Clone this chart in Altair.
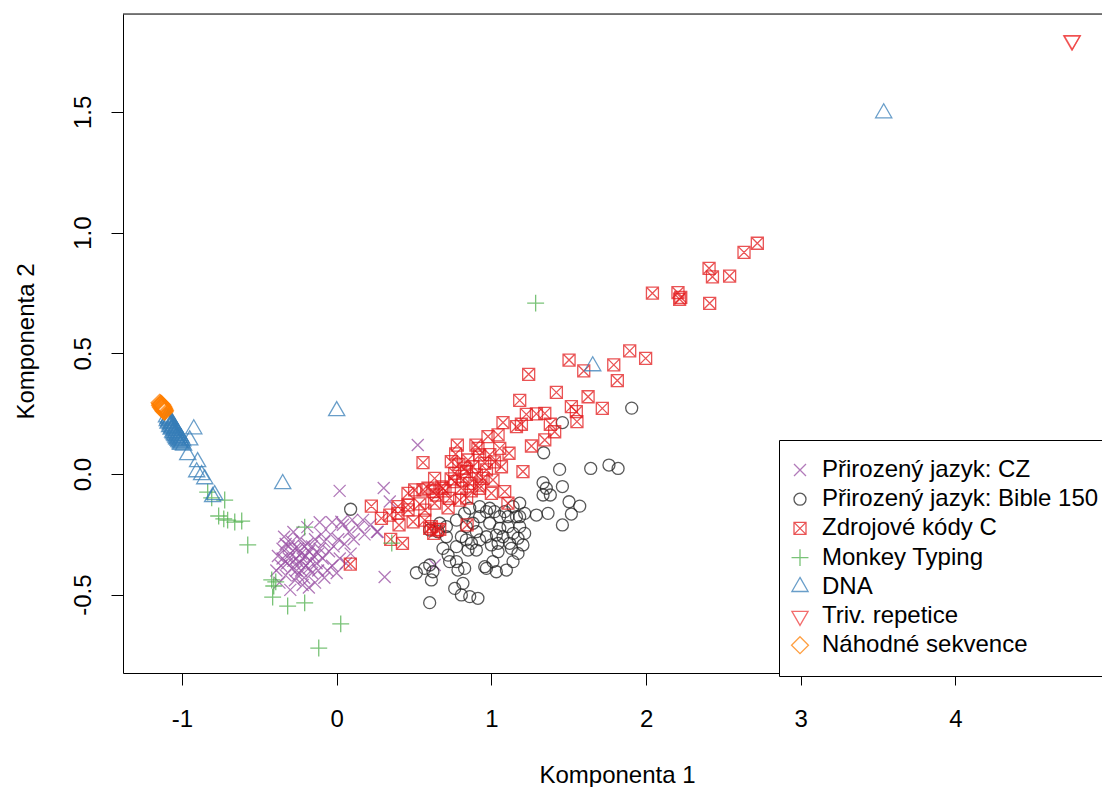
import altair as alt
import pandas as pd

# Principal component scores (Komponenta 1, Komponenta 2) per text type
cz_pts = [
    (-0.30, -0.33), (-0.28, -0.36), (-0.25, -0.31), (-0.22, -0.35), (-0.20, -0.38),
    (-0.18, -0.32), (-0.26, -0.40), (-0.32, -0.37), (-0.35, -0.31), (-0.29, -0.28),
    (-0.24, -0.27), (-0.19, -0.29), (-0.15, -0.34), (-0.13, -0.37), (-0.16, -0.41),
    (-0.21, -0.43), (-0.27, -0.44), (-0.33, -0.42), (-0.36, -0.38), (-0.38, -0.34),
    (-0.31, -0.30), (-0.23, -0.33), (-0.17, -0.36), (-0.11, -0.31), (-0.09, -0.35),
    (-0.12, -0.40), (-0.08, -0.28), (-0.05, -0.32), (-0.02, -0.30), (0.01, -0.27),
    (-0.04, -0.25), (-0.10, -0.25), (-0.14, -0.27), (-0.28, -0.24), (-0.34, -0.26),
    (-0.22, -0.46), (-0.14, -0.45), (-0.08, -0.43), (-0.03, -0.38), (0.02, -0.35),
    (0.05, -0.29), (0.08, -0.24), (0.04, -0.21), (0.11, -0.27), (0.14, -0.22),
    (0.18, -0.25), (0.22, -0.21), (0.26, -0.24), (0.17, -0.19), (0.10, -0.19),
    (-0.03, -0.20), (-0.11, -0.20), (-0.19, -0.22), (-0.24, -0.37), (-0.20, -0.34),
    (-0.26, -0.35), (-0.29, -0.39), (-0.18, -0.39), (-0.23, -0.40), (-0.31, -0.35),
    (-0.33, -0.29), (-0.39, -0.40), (-0.37, -0.45), (-0.30, -0.48), (-0.18, -0.47),
    (-0.06, -0.40), (0.00, -0.41), (0.06, -0.37), (0.09, -0.33), (-0.12, -0.33),
    (-0.16, -0.30), (-0.21, -0.30), (-0.27, -0.31), (-0.25, -0.42), (-0.35, -0.35),
    (0.524, 0.120), (0.019, -0.070), (0.304, -0.058), (0.343, -0.114), (0.310, -0.427),
    (0.634, -0.377), (0.030, -0.198), (0.265, -0.239),
]

bible_pts = [
    (1.907, 0.273), (1.459, 0.213), (1.338, 0.088), (1.441, 0.019), (1.642, 0.023),
    (1.760, 0.037), (1.819, 0.023), (1.334, -0.036), (1.355, -0.059), (1.381, -0.087),
    (1.334, -0.087), (1.459, -0.052), (1.502, -0.115), (1.571, -0.133), (1.517, -0.166),
    (1.459, -0.211), (1.366, -0.163), (1.291, -0.170), (1.215, -0.163), (1.183, -0.121),
    (1.183, -0.218), (1.204, -0.294), (1.172, -0.329), (1.140, -0.363), (1.097, -0.398),
    (1.032, -0.405), (0.968, -0.391), (1.010, -0.363), (1.043, -0.322), (1.129, -0.308),
    (1.140, -0.246), (1.107, -0.218), (1.075, -0.260), (1.032, -0.253), (1.054, -0.177),
    (1.086, -0.156), (1.162, -0.177), (0.989, -0.204), (0.968, -0.156), (0.924, -0.177),
    (0.924, -0.135), (0.989, -0.142), (0.860, -0.142), (0.827, -0.163), (0.774, -0.191),
    (0.709, -0.218), (0.655, -0.239), (0.601, -0.232), (0.666, -0.204), (0.806, -0.260),
    (0.838, -0.273), (0.871, -0.287), (0.924, -0.273), (0.903, -0.239), (0.849, -0.315),
    (0.687, -0.308), (0.720, -0.336), (0.774, -0.363), (0.827, -0.391), (0.784, -0.398),
    (0.601, -0.377), (0.569, -0.391), (0.622, -0.405), (0.515, -0.409), (0.612, -0.439),
    (0.763, -0.474), (0.806, -0.501), (0.860, -0.508), (0.913, -0.515), (0.816, -0.453),
    (0.601, -0.533), (0.957, -0.384), (0.774, -0.301), (0.838, -0.218), (0.881, -0.204),
    (0.709, -0.260), (1.140, -0.135), (1.215, -0.246), (1.172, -0.266), (1.118, -0.287),
    (1.043, -0.287), (1.000, -0.294), (1.021, -0.156), (1.107, -0.177), (1.183, -0.177),
    (1.054, -0.225), (0.968, -0.260), (0.903, -0.315), (0.730, -0.363), (0.090, -0.146),
]

c_pts = [
    (2.719, 0.956), (2.633, 0.918), (2.407, 0.852), (2.429, 0.817), (2.540, 0.820),
    (2.041, 0.749), (2.206, 0.751), (2.217, 0.724), (2.224, 0.732), (2.411, 0.707),
    (1.894, 0.510), (1.997, 0.479), (1.791, 0.452), (1.814, 0.387), (1.717, 0.272),
    (1.502, 0.472), (1.597, 0.427), (1.241, 0.413), (1.420, 0.338), (1.625, 0.320),
    (1.183, 0.305), (1.517, 0.279), (1.549, 0.258), (1.553, 0.217), (1.226, 0.247),
    (1.291, 0.249), (1.345, 0.251), (1.381, 0.206), (1.409, 0.175), (1.075, 0.213),
    (1.162, 0.196), (1.194, 0.206), (1.043, 0.162), (0.978, 0.155), (1.259, 0.116),
    (1.345, 0.141), (1.054, 0.106), (1.114, 0.086), (0.913, 0.106), (0.924, 0.079),
    (0.769, 0.083), (0.558, 0.047), (0.741, 0.051), (0.849, 0.058), (0.957, 0.044),
    (1.065, 0.030), (0.827, 0.024), (0.763, 0.003), (0.838, 0.010), (0.903, -0.004),
    (0.968, 0.017), (1.204, 0.010), (1.010, -0.025), (0.946, -0.018), (0.633, -0.018),
    (0.763, -0.032), (0.816, -0.025), (0.860, -0.039), (0.806, -0.059), (0.677, -0.053),
    (0.590, -0.059), (0.558, -0.066), (0.504, -0.066), (0.461, -0.080), (0.645, -0.087),
    (0.730, -0.101), (0.795, -0.108), (1.086, -0.073), (0.924, -0.059), (0.537, -0.124),
    (0.633, -0.121), (0.461, -0.128), (0.396, -0.135), (0.224, -0.133), (0.289, -0.184),
    (0.343, -0.170), (0.396, -0.163), (0.403, -0.211), (0.461, -0.149), (0.494, -0.198),
    (0.569, -0.191), (0.612, -0.218), (0.666, -0.229), (0.627, -0.246), (0.349, -0.271),
    (0.425, -0.287), (0.088, -0.373), (0.843, -0.211), (0.648, -0.232), (0.601, -0.225),
    (1.107, -0.121), (0.687, -0.059), (0.622, -0.073), (0.924, -0.046), (0.880, 0.030),
    (0.790, 0.040), (0.870, -0.070), (0.740, -0.020), (0.700, -0.070), (0.990, 0.080),
    (1.020, 0.050), (0.900, 0.120), (0.840, -0.100), (0.780, 0.120), (1.000, -0.080),
    (0.570, -0.150), (0.720, -0.140),
]

monkey_pts = [
    (1.286, 0.708), (-0.834, -0.075), (-0.724, -0.108), (-0.763, -0.174), (-0.730, -0.186),
    (-0.705, -0.191), (-0.659, -0.199), (-0.614, -0.195), (-0.575, -0.294), (-0.207, -0.220),
    (-0.420, -0.439), (-0.394, -0.447), (-0.407, -0.464), (-0.414, -0.510), (-0.317, -0.547),
    (-0.207, -0.534), (0.026, -0.621), (-0.116, -0.721), (0.356, -0.286), (-0.808, -0.099),
]

dna_pts = [
    (3.536, 1.495), (1.655, 0.447), (0.000, 0.261), (-0.349, -0.041), (-0.924, 0.186),
    (-0.963, 0.079), (-0.899, 0.050), (-0.905, 0.008), (-0.873, -0.004), (-0.853, -0.021),
    (-0.789, -0.087), (-0.802, -0.095), (-0.950, 0.140),
    (-1.100, 0.235), (-1.090, 0.228), (-1.095, 0.220), (-1.085, 0.215), (-1.080, 0.222),
    (-1.075, 0.205), (-1.090, 0.210), (-1.070, 0.198), (-1.065, 0.210), (-1.080, 0.195),
    (-1.060, 0.190), (-1.055, 0.200), (-1.070, 0.185), (-1.050, 0.180), (-1.045, 0.190),
    (-1.060, 0.172), (-1.040, 0.170), (-1.035, 0.178), (-1.050, 0.162), (-1.030, 0.160),
    (-1.025, 0.168), (-1.040, 0.152), (-1.020, 0.150), (-1.015, 0.158), (-1.030, 0.143),
    (-1.010, 0.140), (-1.005, 0.148), (-1.020, 0.133), (-1.000, 0.128), (-0.995, 0.136),
    (-1.010, 0.122), (-0.990, 0.118), (-1.085, 0.232), (-1.075, 0.225), (-1.065, 0.190),
    (-1.055, 0.168), (-1.035, 0.145), (-1.025, 0.138), (-1.045, 0.158), (-1.012, 0.128),
]

triv_pts = [(4.755, 1.797), (4.752, 1.795)]

rand_pts = [
    (-1.145, 0.295), (-1.140, 0.292), (-1.138, 0.288), (-1.135, 0.290), (-1.132, 0.284),
    (-1.130, 0.280), (-1.128, 0.286), (-1.126, 0.278), (-1.124, 0.274), (-1.122, 0.280),
    (-1.120, 0.270), (-1.118, 0.266), (-1.116, 0.272), (-1.114, 0.262), (-1.112, 0.258),
    (-1.110, 0.264), (-1.142, 0.284), (-1.136, 0.276), (-1.128, 0.270), (-1.120, 0.262),
]

groups = [
    "Přirozený jazyk: CZ",
    "Přirozený jazyk: Bible 150",
    "Zdrojové kódy C",
    "Monkey Typing",
    "DNA",
    "Triv. repetice",
    "Náhodné sekvence",
]
series = [cz_pts, bible_pts, c_pts, monkey_pts, dna_pts, triv_pts, rand_pts]
colors = ["#984EA3", "#222222", "#E41A1C", "#4DAF4A", "#377EB8", "#F03C3C", "#FF7F00"]
# R-style plotting symbols as unit SVG paths
shapes = [
    "M-1,-1L1,1M-1,1L1,-1",                                  # cross (x)
    "M1,0A1,1,0,1,1,-1,0A1,1,0,1,1,1,0Z",                    # open circle
    "M-1,-1L1,-1L1,1L-1,1ZM-1,-1L1,1M-1,1L1,-1",             # boxed cross
    "M-1.41,0L1.41,0M0,-1.41L0,1.41",                        # plus
    "M0,-1.56L1.35,0.78L-1.35,0.78Z",                        # triangle up
    "M0,1.56L1.35,-0.78L-1.35,-0.78Z",                       # triangle down
    "M0,-1.41L1.41,0L0,1.41L-1.41,0Z",                       # diamond
]

rows = []
for name, pts in zip(groups, series):
    for px, py in pts:
        rows.append({"k1": px, "k2": py, "typ": name})
df = pd.DataFrame(rows)

FONT = "Liberation Sans"
x_dom = [-1.3814, 4.9471]
y_dom = [-0.8244, 1.9056]

points = alt.Chart(df).mark_point(
    filled=False, size=144, strokeWidth=1.3, opacity=0.75
).encode(
    x=alt.X(
        "k1:Q",
        scale=alt.Scale(domain=x_dom, nice=False, zero=False),
        axis=alt.Axis(
            values=[-1, 0, 1, 2, 3, 4],
            labelExpr="datum.value < 0 ? '-' + format(-datum.value, 'd') : format(datum.value, 'd')",
            grid=False, domainColor="black", tickColor="black", tickSize=12,
            labelFont=FONT, labelFontSize=24, labelColor="black",
            labelBaseline="alphabetic", labelPadding=41,
            title="Komponenta 1", titleFont=FONT, titleFontSize=24,
            titleFontWeight="normal", titleColor="black",
            titleBaseline="alphabetic", titleX=494, titleY=109,
        ),
    ),
    y=alt.Y(
        "k2:Q",
        scale=alt.Scale(domain=y_dom, nice=False, zero=False),
        axis=alt.Axis(
            values=[-0.5, 0, 0.5, 1, 1.5],
            labelExpr="datum.value < 0 ? '-' + format(-datum.value, '.1f') : format(datum.value, '.1f')",
            grid=False, domainColor="black", tickColor="black", tickSize=12,
            labelFont=FONT, labelFontSize=24, labelColor="black",
            labelAngle=270, labelAlign="center", labelBaseline="alphabetic",
            labelPadding=21,
            title="Komponenta 2", titleFont=FONT, titleFontSize=24,
            titleFontWeight="normal", titleColor="black",
            titleAngle=270, titleAlign="center", titleBaseline="alphabetic",
            titleX=-90, titleY=327,
        ),
    ),
    color=alt.Color(
        "typ:N",
        scale=alt.Scale(domain=groups, range=colors),
        legend=alt.Legend(
            title=None, orient="none", legendX=656, legendY=426,
            strokeColor="black", fillColor="white", padding=18,
            labelFont=FONT, labelFontSize=24, labelColor="black", labelLimit=1000,
            labelOffset=10, symbolOffset=-9, rowPadding=5.2,
            symbolSize=144, symbolStrokeWidth=1.3, symbolOpacity=0.75,
        ),
    ),
    shape=alt.Shape(
        "typ:N",
        scale=alt.Scale(domain=groups, range=shapes),
        legend=alt.Legend(title=None),
    ),
)

# top edge of the plot frame
top_edge = alt.Chart(pd.DataFrame({"edge": [0]})).mark_rule(
    color="black", strokeWidth=1
).encode(y=alt.value(0))

chart = alt.layer(points, top_edge).properties(
    width=979, height=659,
    autosize=alt.AutoSizeParams(type="none"),
    padding={"left": 123, "top": 14, "right": 0, "bottom": 114},
).configure_view(stroke=None).configure(background="white")

chart.save("out.html", embed_options={"renderer": "svg", "actions": False})
